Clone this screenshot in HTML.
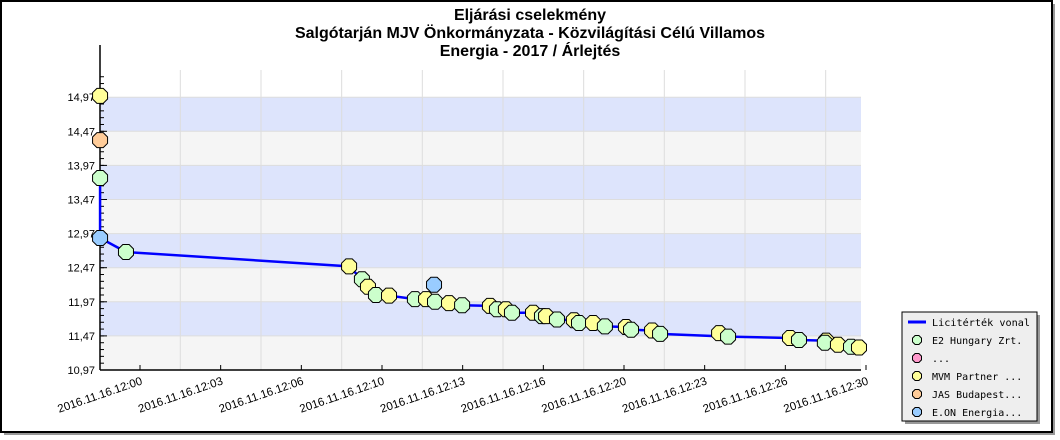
<!DOCTYPE html>
<html><head><meta charset="utf-8"><style>
body{margin:0;background:#fff;}
svg{display:block;font-family:"Liberation Sans",sans-serif;}
</style></head><body>
<svg id="c" width="1060" height="440" xmlns="http://www.w3.org/2000/svg">
<rect x="4" y="4" width="1051" height="431" fill="#999"/>
<rect x="1" y="1" width="1051" height="431" fill="#fff" stroke="#000" stroke-width="2"/>
<g font-weight="bold" font-size="16" text-anchor="middle" fill="#000">
<text x="530" y="20">Eljárási cselekmény</text>
<text x="530" y="38">Salgótarján MJV Önkormányzata - Közvilágítási Célú Villamos</text>
<text x="530" y="56">Energia - 2017 / Árlejtés</text>
</g>
<g id="plot"></g>
<g id="legend">
<rect x="905" y="315" width="135" height="109" fill="#999"/>
<rect x="902" y="312" width="135" height="109" fill="#eee" stroke="#000" stroke-width="1"/>
<g font-family="'DejaVu Sans Mono','Liberation Mono',monospace" font-size="10" fill="#000">
<line x1="908" y1="322" x2="926" y2="322" stroke="#00f" stroke-width="3"/>
<text x="932" y="326" textLength="98" lengthAdjust="spacingAndGlyphs">Licitérték vonal</text>
<text x="932" y="344">E2 Hungary Zrt.</text>
<text x="932" y="362">...</text>
<text x="932" y="380">MVM Partner ...</text>
<text x="932" y="398">JAS Budapest...</text>
<text x="932" y="416">E.ON Energia...</text>
</g>
</g>
</svg>
<script>
// minutes after 12:00
const bidTimes = [-1.65,-1.65,-1.65,-1.65,-0.58,8.64,9.17,9.42,9.75,10.29,11.36,11.82,12.15,12.19,12.77,13.31,14.46,14.75,15.12,15.37,16.24,16.61,16.78,17.23,17.93,18.14,18.72,19.21,20.08,20.29,21.16,21.49,23.93,24.30,26.86,27.23,28.35,28.30,28.84,29.38,29.71];
const bidPrices = [13.785,14.99,14.34,12.905,12.70,12.49,12.30,12.19,12.07,12.06,12.01,12.01,12.22,11.97,11.95,11.92,11.91,11.86,11.86,11.81,11.81,11.76,11.76,11.71,11.70,11.66,11.66,11.61,11.60,11.56,11.55,11.50,11.51,11.46,11.44,11.41,11.40,11.37,11.34,11.31,11.30];
const bidders = ['g','y','o','b','g','y','g','y','g','y','g','y','b','g','y','g','y','g','y','g','y','g','y','g','y','g','y','g','y','g','y','g','y','g','y','g','y','g','y','g','y'];
const yTicks = [10.97,11.47,11.97,12.47,12.97,13.47,13.97,14.47,14.97];
const yTickLabels = ['10,97','11,47','11,97','12,47','12,97','13,47','13,97','14,47','14,97'];
const xTicks = [0,3.333,6.667,10,13.333,16.667,20,23.333,26.667,30];
const xTickLabels = ['2016.11.16.12:00','2016.11.16.12:03','2016.11.16.12:06','2016.11.16.12:10','2016.11.16.12:13','2016.11.16.12:16','2016.11.16.12:20','2016.11.16.12:23','2016.11.16.12:26','2016.11.16.12:30'];
const colors = {g:'#ccffcc',y:'#ffff99',o:'#ffcc99',b:'#99ccff',p:'#ff99cc'};

const L=100,R=861,T=70,B=370;
const X = m => 140 + m*24.2;
const Y = v => 370 - (v-10.97)*68.2;
const NS='http://www.w3.org/2000/svg';
const plot=document.getElementById('plot');
function mk(tag,attrs,parent){const e=document.createElementNS(NS,tag);for(const k in attrs)e.setAttribute(k,attrs[k]);(parent||plot).appendChild(e);return e;}

for(let i=0;i<yTicks.length-1;i++){
  const b=mk('rect',{x:L,y:Y(yTicks[i+1]),width:R-L,height:Y(yTicks[i])-Y(yTicks[i+1]),fill:i%2?'#dde4fc':'#f5f5f5'});
  
  
}
for(let i=0;i<xTicks.length-1;i++){
  const gx=X((xTicks[i]+xTicks[i+1])/2);
  const g=mk('line',{x1:gx,x2:gx,y1:T,y2:B,stroke:'#ddd','stroke-width':1});
  
  
}
yTicks.forEach(v=>{
  const g=mk('line',{x1:L,x2:R,y1:Y(v),y2:Y(v),stroke:'#ddd','stroke-width':1});
  
  
});
const ax=mk('line',{x1:L,x2:L,y1:T-25,y2:B,stroke:'#000','stroke-width':1.5});


const bx=mk('line',{x1:L,x2:R,y1:B,y2:B,stroke:'#000','stroke-width':1.5});


for(let v=10.97;v<15.3;v+=0.1){
  const t=mk('line',{x1:L,x2:L+4,y1:Y(v),y2:Y(v),stroke:'#000'});
  
  
}
yTicks.forEach((v,i)=>{
  const t=mk('line',{x1:L,x2:L+7,y1:Y(v),y2:Y(v),stroke:'#000'});
  
  
  const tx=mk('text',{x:L-5,y:Y(v)+4,'text-anchor':'end','font-size':11});
  tx.textContent=yTickLabels[i];
  
  
});
xTicks.forEach((m,i)=>{
  const x=X(m);
  const t=mk('line',{x1:x,x2:x,y1:B-5,y2:B,stroke:'#000'});
  
  
  const tx=mk('text',{x:x+3,y:B+14,'text-anchor':'end','font-size':11.5,transform:`rotate(-19 ${x+3} ${B+14})`});
  tx.textContent=xTickLabels[i];
  
  
});
let pts=[],mn=Infinity;
bidPrices.forEach((p,i)=>{ if(p<=mn){mn=p;pts.push(X(bidTimes[i])+','+Y(p));} });
const ln=mk('polyline',{points:pts.join(' '),fill:'none',stroke:'#00f','stroke-width':2.5});


function oct(cx,cy,r,fill,parent){
  const a=r*0.42;
  const p=[[cx-a,cy-r],[cx+a,cy-r],[cx+r,cy-a],[cx+r,cy+a],[cx+a,cy+r],[cx-a,cy+r],[cx-r,cy+a],[cx-r,cy-a]].map(q=>q.join(',')).join(' ');
  return mk('polygon',{points:p,fill:fill,stroke:'#000','stroke-width':1},parent);
}
bidTimes.forEach((m,i)=>{
  const o=oct(X(m),Y(bidPrices[i]),7.5,colors[bidders[i]]);
  
  
});
const lg=document.getElementById('legend');
['g','p','y','o','b'].forEach((k,i)=>{
  const o=oct(917,340+i*18,4.5,colors[k],lg);
  
  
});
</script>
</body></html>
